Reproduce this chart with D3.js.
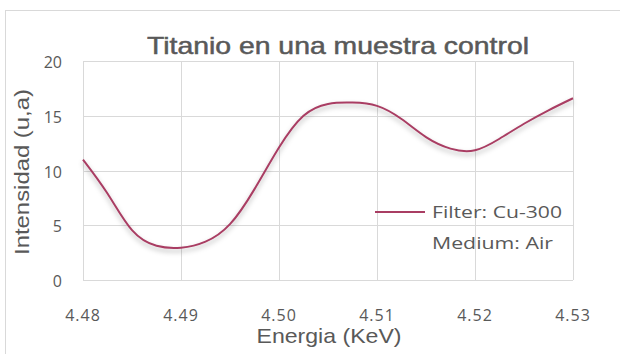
<!DOCTYPE html>
<html><head><meta charset="utf-8">
<script src="https://cdn.jsdelivr.net/npm/d3@7"></script>
<style>body{margin:0;background:#fff;}svg{display:block;}</style>
</head><body>
<svg id="c" width="620" height="354"></svg>
<script>
const energy = [4.4800,4.4825,4.4850,4.4875,4.4900,4.4925,4.4950,4.4975,4.5000,4.5025,4.5050,4.5075,4.5100,4.5125,4.5150,4.5175,4.5200,4.5225,4.5250,4.5275,4.5300];
const intensity = [11.0,7.9,4.55,3.12,2.95,3.5,5.1,8.3,12.1,15.0,16.08,16.2,15.9,14.7,13.05,12.0,11.85,12.9,14.27,15.5,16.6];
const xTicks = [4.48,4.49,4.50,4.51,4.52,4.53];
const yTicks = [0,5,10,15,20];
const title = "Titanio en una muestra control";
const xTitle = "Energia (KeV)";
const yTitle = "Intensidad (u,a)";
const legendLines = ["Filter: Cu-300","Medium: Air"];

const svg = d3.select("#c");
const gray = "#595959";
const grid = "#d9d9d9";
const lineColor = "#a93e63";
const numFont = "'Open Sans', sans-serif";
const sansFont = "'Liberation Sans', Arial, sans-serif";

const defs = svg.append("defs");
const f = defs.append("filter").attr("id","sh").attr("x","-10%").attr("y","-10%").attr("width","120%").attr("height","140%");
f.append("feDropShadow").attr("dx",0).attr("dy",3).attr("stdDeviation",2.5).attr("flood-color","#000").attr("flood-opacity",0.3);

svg.append("rect").attr("x",5.5).attr("y",10.5).attr("width",700).attr("height",400)
  .attr("fill","#fff").attr("stroke",grid).attr("stroke-width",1);

const x = d3.scaleLinear().domain([4.48,4.53]).range([83,573]);
const y = d3.scaleLinear().domain([0,20]).range([280,61]);

const g = svg.append("g");
g.selectAll(".vg").data(xTicks).join("line")
  .attr("x1",d=>Math.round(x(d))+0.5).attr("x2",d=>Math.round(x(d))+0.5)
  .attr("y1",y(0)).attr("y2",y(20)).attr("stroke",grid).attr("stroke-width",1);
g.selectAll(".hg").data(yTicks).join("line")
  .attr("y1",d=>Math.round(y(d))+0.5).attr("y2",d=>Math.round(y(d))+0.5)
  .attr("x1",x(4.48)).attr("x2",x(4.53)).attr("stroke",grid).attr("stroke-width",1);

g.selectAll(".xt").data(xTicks).join("text")
  .attr("x",d=>x(d)).attr("y",321).attr("text-anchor","middle")
  .attr("font-family",numFont).attr("font-size",16).attr("fill",gray)
  .attr("letter-spacing",1)
  .text(d=>d3.format(".2f")(d));
g.selectAll(".yt").data(yTicks).join("text")
  .attr("x",62).attr("y",d=>y(d)+7).attr("text-anchor","end")
  .attr("font-family",numFont).attr("font-size",16).attr("fill",gray)
  .text(d=>d);

svg.append("text").attr("x",338).attr("y",54).attr("text-anchor","middle")
  .attr("font-family",sansFont).attr("font-size",24).attr("fill",gray)
  .attr("stroke",gray).attr("stroke-width",0.5)
  .attr("textLength",382).attr("lengthAdjust","spacingAndGlyphs").text(title);
svg.append("text").attr("x",329).attr("y",343).attr("text-anchor","middle")
  .attr("font-family",sansFont).attr("font-size",21).attr("fill",gray)
  .attr("textLength",145).attr("lengthAdjust","spacingAndGlyphs").text(xTitle);
svg.append("text").attr("transform","translate(29,172) rotate(-90)").attr("text-anchor","middle")
  .attr("font-family",sansFont).attr("font-size",21).attr("fill",gray)
  .attr("textLength",166).attr("lengthAdjust","spacingAndGlyphs").text(yTitle);

const data = energy.map((e,i)=>[e,intensity[i]]);
const line = d3.line().x(d=>x(d[0])).y(d=>y(d[1])).curve(d3.curveNatural);
svg.append("path").datum(data).attr("d",line).attr("fill","none")
  .attr("stroke",lineColor).attr("stroke-width",2).attr("filter","url(#sh)");

const lg = svg.append("g");
lg.append("line").attr("x1",375).attr("x2",425).attr("y1",212).attr("y2",212)
  .attr("stroke",lineColor).attr("stroke-width",2);
lg.selectAll("text").data(legendLines).join("text")
  .attr("x",432).attr("y",(d,i)=>218+i*31)
  .attr("font-family",numFont).attr("font-size",17).attr("fill",gray)
  .attr("textLength",(d,i)=>i===0?130:121).attr("lengthAdjust","spacingAndGlyphs")
  .text(d=>d);
</script>
</body></html>
